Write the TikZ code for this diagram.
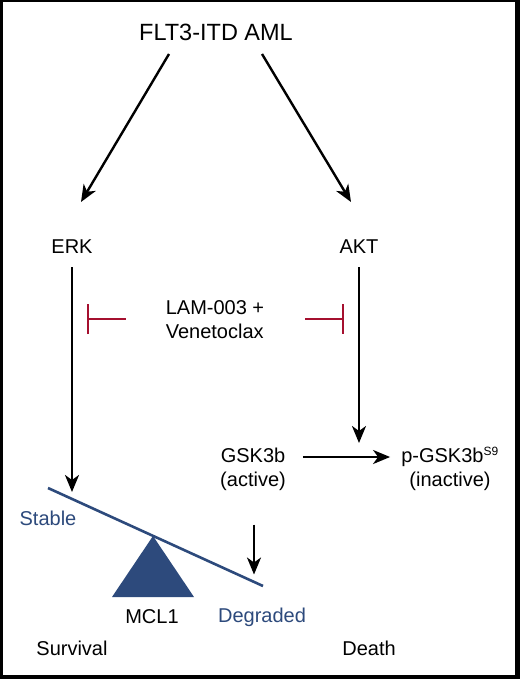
\documentclass[tikz,border=0pt]{standalone}
\usepackage{fontspec}
\setmainfont{Liberation Sans}
\usetikzlibrary{arrows.meta,calc}
\definecolor{inhred}{HTML}{A5102F}
\definecolor{mclblue}{HTML}{2D4A7C}
\begin{document}
\begin{tikzpicture}[x=1pt,y=-1pt,
  lbl/.style={font=\fontsize{20}{24}\selectfont, inner sep=0pt, align=center},
  big/.style={font=\fontsize{23.5}{27}\selectfont, inner sep=0pt},
  arr/.style={line width=2.4pt, -{Stealth[length=17pt,width=14pt,inset=5pt]}},
  inh/.style={line width=2.4pt, inhred, -{Bar[width=30pt,line width=2.6pt]}},
  beam/.style={line width=2.6pt, mclblue},
  bluetxt/.style={lbl, text=mclblue}]
\useasboundingbox (0,0) rectangle (520,679);
\fill[black] (0,0) rectangle (520,679);
\fill[white] (2.5,2.5) rectangle (515,675);
% nodes
\node[big] (flt) at (216,32) {FLT3-ITD AML};
\node[lbl] (erk) at (72,247) {ERK};
\node[lbl] (akt) at (359,247) {AKT};
\node[lbl, align=left] (lam) at (215,320) {LAM-003 +\\Venetoclax};
\node[lbl] (gsk) at (253,469) {GSK3b\\(active)};
\node[lbl] (pgsk) at (450,469) {p-GSK3b\textsuperscript{\fontsize{12}{12}\selectfont S9}\\(inactive)};
\node[bluetxt] (stable) at (48,518) {Stable};
\node[lbl] (mcl) at (152,617) {MCL1};
\node[bluetxt] (degr) at (262,617) {Degraded};
\node[lbl] (surv) at (72,648) {Survival};
\node[lbl] (death) at (369,648) {Death};
% balance
\coordinate (bL) at (48,488);
\coordinate (bR) at (263,586);
\fill[mclblue] (153,536) -- (112,597) -- (194,597) -- cycle;
\draw[beam] (bL) -- (bR);
% arrows
\draw[arr] ($(flt)+(-47,22)$) -- ($(erk)+(9,-45)$);
\draw[arr] ($(flt)+(46,22)$) -- ($(akt)+(-8,-45)$);
\draw[arr] ($(erk)+(0,20)$) -- ($(erk)+(0,245)$);
\draw[arr] ($(akt)+(0,20)$) -- ($(akt)+(0,196)$);
\draw[arr] ($(gsk.east)+(17,-12)$) -- ($(pgsk.west)+(-11,-12)$);
\draw[arr] ($(gsk.south)+(1,34)$) -- ($(gsk.south)+(1,84)$);
% inhibitions
\draw[inh] ($(lam.west)+(-40,-1)$) -- ($(lam.west)+(-79,-1)$);
\draw[inh] ($(lam.east)+(41,-1)$) -- ($(lam.east)+(80,-1)$);
\end{tikzpicture}
\end{document}
